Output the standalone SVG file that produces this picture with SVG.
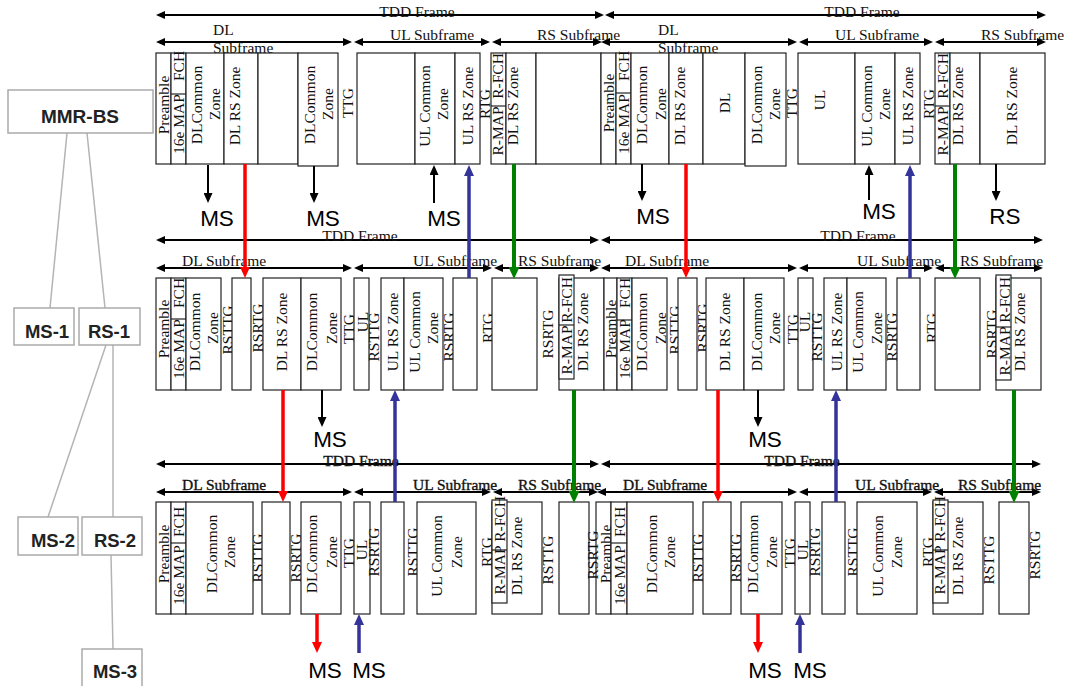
<svg xmlns="http://www.w3.org/2000/svg" width="1065" height="686" viewBox="0 0 1065 686">
<defs>
<style>
.bx{fill:#fff;stroke:#222;stroke-width:1.2}
.dv{stroke:#222;stroke-width:1.2}
.r{font-family:"Liberation Serif","Times New Roman",serif;font-size:15.5px;text-anchor:middle;fill:#111}
.l{font-family:"Liberation Serif","Times New Roman",serif;font-size:15.5px;fill:#111}
.c{text-anchor:middle}
.bd{stroke:#111;stroke-width:0.35}
.ms{font-family:"Liberation Sans",Arial,sans-serif;font-size:22.5px;text-anchor:middle;fill:#000}
.tn{fill:#fff;stroke:#aaa;stroke-width:1.5}
.tt{font-family:"Liberation Sans",Arial,sans-serif;font-weight:bold;font-size:19px;fill:#222;text-anchor:middle}
.tl{stroke:#b4b4b4;stroke-width:1.5;fill:none}
.h{stroke:#000;stroke-width:2.2;fill:none;marker-start:url(#ah);marker-end:url(#ah)}
.k{stroke:#000;stroke-width:2;fill:none;marker-end:url(#kb)}
.rd{stroke:#ff0000;stroke-width:3.5;fill:none;marker-end:url(#rdh)}
.bu{stroke:#333399;stroke-width:3.5;fill:none;marker-end:url(#buh)}
.gr{stroke:#008000;stroke-width:4;fill:none;marker-end:url(#grh)}
</style>
<marker id="ah" viewBox="0 0 9 8" refX="3" refY="4" markerWidth="9" markerHeight="8" markerUnits="userSpaceOnUse" orient="auto-start-reverse"><path d="M0,0L9,4L0,8z" fill="#000"/></marker>
<marker id="kb" viewBox="0 0 10 9" refX="4" refY="4.5" markerWidth="10" markerHeight="9" markerUnits="userSpaceOnUse" orient="auto"><path d="M0,0L10,4.5L0,9z" fill="#000"/></marker>
<marker id="rdh" viewBox="0 0 11 10" refX="5" refY="5" markerWidth="11" markerHeight="10" markerUnits="userSpaceOnUse" orient="auto"><path d="M0,0L11,5L0,10z" fill="#ff0000"/></marker>
<marker id="buh" viewBox="0 0 11 10" refX="5" refY="5" markerWidth="11" markerHeight="10" markerUnits="userSpaceOnUse" orient="auto"><path d="M0,0L11,5L0,10z" fill="#333399"/></marker>
<marker id="grh" viewBox="0 0 12 11" refX="5" refY="5.5" markerWidth="12" markerHeight="11" markerUnits="userSpaceOnUse" orient="auto"><path d="M0,0L12,5.5L0,11z" fill="#008000"/></marker>
</defs>
<rect width="1065" height="686" fill="#fff"/>

<!-- Tree -->
<g id="tree-links">
<line class="tl" x1="67" y1="133" x2="50" y2="308"/>
<line class="tl" x1="87" y1="133" x2="105" y2="308"/>
<line class="tl" x1="106" y1="345" x2="48" y2="517"/>
<line class="tl" x1="113" y1="345" x2="113" y2="517"/>
<line class="tl" x1="111" y1="555" x2="113" y2="649"/>
</g>
<g id="mmr-bs"><rect class="tn" x="8" y="90" width="145" height="43"/><text class="tt" x="80" y="123">MMR-BS</text></g>
<g id="ms-1"><rect class="tn" x="14" y="308" width="60" height="37"/><text class="tt" x="47" y="338" style="font-size:18.5px">MS-1</text></g>
<g id="rs-1"><rect class="tn" x="79" y="308" width="61" height="37"/><text class="tt" x="109" y="338" style="font-size:18.5px">RS-1</text></g>
<g id="ms-2"><rect class="tn" x="18" y="517" width="60" height="38"/><text class="tt" x="53" y="547" style="font-size:18.5px">MS-2</text></g>
<g id="rs-2"><rect class="tn" x="82" y="517" width="60" height="38"/><text class="tt" x="115" y="547" style="font-size:18.5px">RS-2</text></g>
<g id="ms-3"><rect class="tn" x="82" y="649" width="60" height="42"/><text class="tt" x="115" y="678" style="font-size:18.5px">MS-3</text></g>

<!-- Row 1 timing arrows and labels -->
<g id="row1-timing">
<line class="h" x1="162" y1="15" x2="598" y2="15"/>
<line class="h" x1="611" y1="15" x2="1040" y2="15"/>
<line class="h" x1="162" y1="42" x2="346" y2="42"/>
<line class="h" x1="360" y1="42" x2="484" y2="42"/>
<line class="h" x1="498" y1="42" x2="596" y2="42"/>
<line class="h" x1="607" y1="42" x2="791" y2="42"/>
<line class="h" x1="805" y1="42" x2="927" y2="42"/>
<line class="h" x1="941" y1="42" x2="1040" y2="42"/>
<text class="l c" x="417" y="17">TDD Frame</text>
<text class="l c" x="862" y="17">TDD Frame</text>
<text class="l" x="213" y="35">DL</text>
<text class="l" x="213" y="53">Subframe</text>
<text class="l" x="658" y="35">DL</text>
<text class="l" x="658" y="53">Subframe</text>
<text class="l" x="390" y="40">UL Subframe</text>
<text class="l" x="835" y="40">UL Subframe</text>
<text class="l" x="537" y="40">RS Subframe</text>
<text class="l" x="981" y="40">RS Subframe</text>
</g>

<!-- Row 1 left frame -->
<g id="r1a-pre"><rect class="bx" x="156" y="53" width="15" height="111"/><text class="r" transform="translate(168.5,105) rotate(-90)">Preamble</text></g>
<g id="r1a-map"><rect class="bx" x="171" y="53" width="15" height="111"/><line class="dv" x1="171" y1="94" x2="186" y2="94"/><text class="r" transform="translate(184,66) rotate(-90)">FCH</text><text class="r" transform="translate(184,124) rotate(-90)">16e MAP</text></g>
<g id="r1a-dlc"><rect class="bx" x="186" y="53" width="38" height="111"/><text class="r" transform="translate(202,105) rotate(-90)">DLCommon</text><text class="r" transform="translate(220,104) rotate(-90)">Zone</text></g>
<g id="r1a-dlrs"><rect class="bx" x="224" y="53" width="34" height="111"/><text class="r" transform="translate(240,106) rotate(-90)">DL RS Zone</text></g>
<g id="r1a-e1"><rect class="bx" x="258" y="53" width="40" height="111"/></g>
<g id="r1a-dlc2"><rect class="bx" x="298" y="53" width="40" height="113"/><text class="r" transform="translate(315,105) rotate(-90)">DLCommon</text><text class="r" transform="translate(333,104) rotate(-90)">Zone</text></g>
<g id="r1a-ttg"><text class="r" transform="translate(353,103) rotate(-90)">TTG</text></g>
<g id="r1a-ul"><rect class="bx" x="357" y="53" width="58" height="111"/></g>
<g id="r1a-ulc"><rect class="bx" x="415" y="53" width="40" height="111"/><text class="r" transform="translate(430,106) rotate(-90)">UL Common</text><text class="r" transform="translate(448,104) rotate(-90)">Zone</text></g>
<g id="r1a-ulrs"><rect class="bx" x="455" y="53" width="25" height="111"/><text class="r" transform="translate(473,106) rotate(-90)">UL RS Zone</text></g>
<g id="r1a-rtg"><text class="r" transform="translate(490,104) rotate(-90)">RTG</text></g>
<g id="r1a-rmap"><rect class="bx" x="491" y="53" width="15" height="111"/><line class="dv" x1="491" y1="106" x2="506" y2="106"/><text class="r" transform="translate(503,76) rotate(-90)">R-FCH</text><text class="r" transform="translate(503,131) rotate(-90)">R-MAP</text></g>
<g id="r1a-dlrs2"><rect class="bx" x="506" y="53" width="30" height="111"/><text class="r" transform="translate(518,106) rotate(-90)">DL RS Zone</text></g>
<g id="r1a-e2"><rect class="bx" x="536" y="53" width="65" height="111"/></g>

<!-- Row 1 right frame -->
<g id="r1b-pre"><rect class="bx" x="601" y="53" width="15" height="111"/><text class="r" transform="translate(613.5,103) rotate(-90)">Preamble</text></g>
<g id="r1b-map"><rect class="bx" x="616" y="53" width="15" height="111"/><line class="dv" x1="616" y1="93" x2="631" y2="93"/><text class="r" transform="translate(629,66) rotate(-90)">FCH</text><text class="r" transform="translate(629,124) rotate(-90)">16e MAP</text></g>
<g id="r1b-dlc"><rect class="bx" x="631" y="53" width="38" height="111"/><text class="r" transform="translate(647,105) rotate(-90)">DLCommon</text><text class="r" transform="translate(666,104) rotate(-90)">Zone</text></g>
<g id="r1b-dlrs"><rect class="bx" x="669" y="53" width="34" height="111"/><text class="r" transform="translate(685,106) rotate(-90)">DL RS Zone</text></g>
<g id="r1b-dl"><rect class="bx" x="703" y="53" width="42" height="111"/><text class="r" transform="translate(730,103) rotate(-90)">DL</text></g>
<g id="r1b-dlc2"><rect class="bx" x="745" y="53" width="41" height="113"/><text class="r" transform="translate(762,105) rotate(-90)">DLCommon</text><text class="r" transform="translate(780,104) rotate(-90)">Zone</text></g>
<g id="r1b-ttg"><text class="r" transform="translate(797,103) rotate(-90)">TTG</text></g>
<g id="r1b-ul"><rect class="bx" x="798" y="53" width="57" height="111"/><text class="r" transform="translate(825,100) rotate(-90)">UL</text></g>
<g id="r1b-ulc"><rect class="bx" x="855" y="53" width="40" height="111"/><text class="r" transform="translate(872,106) rotate(-90)">UL Common</text><text class="r" transform="translate(890,104) rotate(-90)">Zone</text></g>
<g id="r1b-ulrs"><rect class="bx" x="895" y="53" width="25" height="111"/><text class="r" transform="translate(913,106) rotate(-90)">UL RS Zone</text></g>
<g id="r1b-rtg"><text class="r" transform="translate(934,104) rotate(-90)">RTG</text></g>
<g id="r1b-rmap"><rect class="bx" x="935" y="53" width="15" height="111"/><line class="dv" x1="935" y1="106" x2="950" y2="106"/><text class="r" transform="translate(948,76) rotate(-90)">R-FCH</text><text class="r" transform="translate(948,131) rotate(-90)">R-MAP</text></g>
<g id="r1b-dlrs2"><rect class="bx" x="950" y="53" width="30" height="111"/><text class="r" transform="translate(963,106) rotate(-90)">DL RS Zone</text></g>
<g id="r1b-dlrs3"><rect class="bx" x="980" y="53" width="65" height="111"/><text class="r" transform="translate(1017,106) rotate(-90)">DL RS Zone</text></g>

<!-- Row 2 timing -->
<g id="row2-timing">
<line class="h" x1="162" y1="240" x2="593" y2="240"/>
<line class="h" x1="607" y1="240" x2="1037" y2="240"/>
<line class="h" x1="162" y1="268" x2="346" y2="268"/>
<line class="h" x1="360" y1="268" x2="486" y2="268"/>
<line class="h" x1="500" y1="268" x2="593" y2="268"/>
<line class="h" x1="607" y1="268" x2="791" y2="268"/>
<line class="h" x1="805" y1="268" x2="927" y2="268"/>
<line class="h" x1="941" y1="268" x2="1037" y2="268"/>
<text class="l c" x="360" y="241">TDD Frame</text>
<text class="l c" x="858" y="241">TDD Frame</text>
<text class="l" x="182" y="266">DL Subframe</text>
<text class="l" x="625" y="266">DL Subframe</text>
<text class="l" x="413" y="266">UL Subframe</text>
<text class="l" x="857" y="266">UL Subframe</text>
<text class="l" x="518" y="266">RS Subframe</text>
<text class="l" x="960" y="266">RS Subframe</text>
</g>

<!-- Row 2 left frame -->
<g id="r2a-pre"><rect class="bx" x="156" y="278" width="15" height="112"/><text class="r" transform="translate(168.5,329) rotate(-90)">Preamble</text></g>
<g id="r2a-map"><rect class="bx" x="171" y="278" width="15" height="112"/><line class="dv" x1="171" y1="319" x2="186" y2="319"/><text class="r" transform="translate(184,293) rotate(-90)">FCH</text><text class="r" transform="translate(184,349) rotate(-90)">16e MAP</text></g>
<g id="r2a-dlc"><rect class="bx" x="186" y="278" width="35" height="112"/><text class="r" transform="translate(200,332) rotate(-90)">DLCommon</text><text class="r" transform="translate(218,328) rotate(-90)">Zone</text></g>
<g id="r2a-rsttg"><text class="r" transform="translate(233,330) rotate(-90)">RSTTG</text></g>
<g id="r2a-b1"><rect class="bx" x="232" y="278" width="19" height="112"/></g>
<g id="r2a-rsrtg"><text class="r" transform="translate(263,328) rotate(-90)">RSRTG</text></g>
<g id="r2a-dlrs"><rect class="bx" x="263" y="278" width="38" height="112"/><text class="r" transform="translate(287,332) rotate(-90)">DL RS Zone</text></g>
<g id="r2a-dlc2"><rect class="bx" x="301" y="278" width="40" height="112"/><text class="r" transform="translate(317,332) rotate(-90)">DLCommon</text><text class="r" transform="translate(337,328) rotate(-90)">Zone</text></g>
<g id="r2a-ttg"><text class="r" transform="translate(354,329) rotate(-90)">TTG</text></g>
<g id="r2a-ul"><rect class="bx" x="354" y="278" width="15" height="112"/><text class="r" transform="translate(368,322) rotate(-90)">UL</text></g>
<g id="r2a-rsttg2"><text class="r" transform="translate(379,337) rotate(-90)">RSTTG</text></g>
<g id="r2a-ulrs"><rect class="bx" x="381" y="278" width="23" height="112"/><text class="r" transform="translate(398,332) rotate(-90)">UL RS Zone</text></g>
<g id="r2a-ulc"><rect class="bx" x="404" y="278" width="39" height="112"/><text class="r" transform="translate(420,332) rotate(-90)">UL Common</text><text class="r" transform="translate(438,328) rotate(-90)">Zone</text></g>
<g id="r2a-rsrtg2"><text class="r" transform="translate(454,337) rotate(-90)">RSRTG</text></g>
<g id="r2a-b2"><rect class="bx" x="453" y="278" width="24" height="112"/></g>
<g id="r2a-rtg"><text class="r" transform="translate(493,328) rotate(-90)">RTG</text></g>
<g id="r2a-b3"><rect class="bx" x="492" y="278" width="45" height="112"/></g>
<g id="r2a-rsrtg3"><text class="r" transform="translate(553,334) rotate(-90)">RSRTG</text></g>
<g id="r2a-dlrs2"><rect class="bx" x="559" y="278" width="45" height="112"/><text class="r" transform="translate(588,332) rotate(-90)">DL RS Zone</text></g>
<g id="r2a-rmap"><rect class="bx" x="559" y="275" width="15" height="104"/><line class="dv" x1="559" y1="325" x2="574" y2="325"/><text class="r" transform="translate(572,300) rotate(-90)">R-FCH</text><text class="r" transform="translate(572,350) rotate(-90)">R-MAP</text></g>

<!-- Row 2 right frame -->
<g id="r2b-pre"><rect class="bx" x="604" y="278" width="13" height="112"/><text class="r" transform="translate(616,329) rotate(-90)">Preamble</text></g>
<g id="r2b-map"><rect class="bx" x="617" y="278" width="15" height="112"/><line class="dv" x1="617" y1="320" x2="632" y2="320"/><text class="r" transform="translate(630,293) rotate(-90)">FCH</text><text class="r" transform="translate(630,349) rotate(-90)">16e MAP</text></g>
<g id="r2b-dlc"><rect class="bx" x="632" y="278" width="35" height="112"/><text class="r" transform="translate(647,332) rotate(-90)">DLCommon</text><text class="r" transform="translate(666,328) rotate(-90)">Zone</text></g>
<g id="r2b-rsttg"><text class="r" transform="translate(680,330) rotate(-90)">RSTTG</text></g>
<g id="r2b-b1"><rect class="bx" x="678" y="278" width="19" height="112"/></g>
<g id="r2b-rsrtg"><text class="r" transform="translate(708,328) rotate(-90)">RSRTG</text></g>
<g id="r2b-dlrs"><rect class="bx" x="706" y="278" width="38" height="112"/><text class="r" transform="translate(730,332) rotate(-90)">DL RS Zone</text></g>
<g id="r2b-dlc2"><rect class="bx" x="744" y="278" width="40" height="112"/><text class="r" transform="translate(762,332) rotate(-90)">DLCommon</text><text class="r" transform="translate(780,328) rotate(-90)">Zone</text></g>
<g id="r2b-ttg"><text class="r" transform="translate(798,329) rotate(-90)">TTG</text></g>
<g id="r2b-ul"><rect class="bx" x="798" y="278" width="15" height="112"/><text class="r" transform="translate(810,322) rotate(-90)">UL</text></g>
<g id="r2b-rsttg2"><text class="r" transform="translate(822,337) rotate(-90)">RSTTG</text></g>
<g id="r2b-ulrs"><rect class="bx" x="824" y="278" width="23" height="112"/><text class="r" transform="translate(842,332) rotate(-90)">UL RS Zone</text></g>
<g id="r2b-ulc"><rect class="bx" x="847" y="278" width="39" height="112"/><text class="r" transform="translate(863,332) rotate(-90)">UL Common</text><text class="r" transform="translate(882,328) rotate(-90)">Zone</text></g>
<g id="r2b-rsrtg2"><text class="r" transform="translate(897,337) rotate(-90)">RSRTG</text></g>
<g id="r2b-b2"><rect class="bx" x="897" y="278" width="23" height="112"/></g>
<g id="r2b-rtg"><text class="r" transform="translate(937,328) rotate(-90)">RTG</text></g>
<g id="r2b-b3"><rect class="bx" x="935" y="278" width="45" height="112"/></g>
<g id="r2b-rsrtg3"><text class="r" transform="translate(997,334) rotate(-90)">RSRTG</text></g>
<g id="r2b-dlrs2"><rect class="bx" x="996" y="278" width="45" height="112"/><text class="r" transform="translate(1025,332) rotate(-90)">DL RS Zone</text></g>
<g id="r2b-rmap"><rect class="bx" x="996" y="275" width="15" height="105"/><line class="dv" x1="996" y1="327" x2="1011" y2="327"/><text class="r" transform="translate(1010,300) rotate(-90)">R-FCH</text><text class="r" transform="translate(1010,351) rotate(-90)">R-MAP</text></g>

<!-- Row 3 timing -->
<g id="row3-timing">
<line class="h" x1="162" y1="464" x2="593" y2="464"/>
<line class="h" x1="607" y1="464" x2="1035" y2="464"/>
<line class="h" x1="162" y1="492" x2="346" y2="492"/>
<line class="h" x1="360" y1="492" x2="485" y2="492"/>
<line class="h" x1="499" y1="492" x2="592" y2="492"/>
<line class="h" x1="603" y1="492" x2="791" y2="492"/>
<line class="h" x1="805" y1="492" x2="926" y2="492"/>
<line class="h" x1="940" y1="492" x2="1035" y2="492"/>
<text class="l c bd" x="361" y="466">TDD Frame</text>
<text class="l c bd" x="802" y="466">TDD Frame</text>
<text class="l bd" x="182" y="490">DL Subframe</text>
<text class="l bd" x="623" y="490">DL Subframe</text>
<text class="l bd" x="413" y="490">UL Subframe</text>
<text class="l bd" x="855" y="490">UL Subframe</text>
<text class="l bd" x="518" y="490">RS Subframe</text>
<text class="l bd" x="958" y="490">RS Subframe</text>
</g>

<!-- Row 3 left frame -->
<g id="r3a-pre"><rect class="bx" x="156" y="502" width="15" height="112"/><text class="r" transform="translate(168.5,554) rotate(-90)">Preamble</text></g>
<g id="r3a-map"><rect class="bx" x="171" y="502" width="15" height="112"/><line class="dv" x1="171" y1="543" x2="186" y2="543"/><text class="r" transform="translate(184,522) rotate(-90)">FCH</text><text class="r" transform="translate(184,575) rotate(-90)">16e MAP</text></g>
<g id="r3a-dlc"><rect class="bx" x="186" y="502" width="67" height="112"/><text class="r" transform="translate(217,554) rotate(-90)">DLCommon</text><text class="r" transform="translate(235,552) rotate(-90)">Zone</text></g>
<g id="r3a-rsttg"><text class="r" transform="translate(263,558) rotate(-90)">RSTTG</text></g>
<g id="r3a-b1"><rect class="bx" x="262" y="502" width="28" height="112"/></g>
<g id="r3a-rsrtg"><text class="r" transform="translate(301,558) rotate(-90)">RSRTG</text></g>
<g id="r3a-dlc2"><rect class="bx" x="301" y="502" width="40" height="112"/><text class="r" transform="translate(317,554) rotate(-90)">DLCommon</text><text class="r" transform="translate(337,552) rotate(-90)">Zone</text></g>
<g id="r3a-ttg"><text class="r" transform="translate(354,553) rotate(-90)">TTG</text></g>
<g id="r3a-ul"><rect class="bx" x="354" y="502" width="16" height="112"/><text class="r" transform="translate(367,550) rotate(-90)">UL</text></g>
<g id="r3a-rsrtg2"><text class="r" transform="translate(379,552) rotate(-90)">RSRTG</text></g>
<g id="r3a-b2"><rect class="bx" x="381" y="502" width="23" height="112"/></g>
<g id="r3a-rsttg2"><text class="r" transform="translate(418,552) rotate(-90)">RSTTG</text></g>
<g id="r3a-ulc"><rect class="bx" x="417" y="502" width="59" height="112"/><text class="r" transform="translate(442,556) rotate(-90)">UL Common</text><text class="r" transform="translate(462,552) rotate(-90)">Zone</text></g>
<g id="r3a-rtg"><text class="r" transform="translate(492,552) rotate(-90)">RTG</text></g>
<g id="r3a-dlrs"><rect class="bx" x="492" y="502" width="50" height="112"/><text class="r" transform="translate(522,556) rotate(-90)">DL RS Zone</text></g>
<g id="r3a-rmap"><rect class="bx" x="492" y="500" width="15" height="103"/><line class="dv" x1="492" y1="550" x2="507" y2="550"/><text class="r" transform="translate(505,519) rotate(-90)">R-FCH</text><text class="r" transform="translate(505,570) rotate(-90)">R-MAP</text></g>
<g id="r3a-rsttg3"><text class="r" transform="translate(553,560) rotate(-90)">RSTTG</text></g>
<g id="r3a-b3"><rect class="bx" x="559" y="502" width="30" height="112"/></g>

<!-- Row 3 right frame -->
<g id="r3b-pre"><rect class="bx" x="596" y="502" width="15" height="112"/><text class="r" transform="translate(611,554) rotate(-90)">Preamble</text></g>
<g id="r3a-rsrtg3"><text class="r" transform="translate(598,555) rotate(-90)">RSRTG</text></g>
<g id="r3b-map"><rect class="bx" x="611" y="502" width="16" height="112"/><line class="dv" x1="611" y1="543" x2="627" y2="543"/><text class="r" transform="translate(625,522) rotate(-90)">FCH</text><text class="r" transform="translate(625,575) rotate(-90)">16e MAP</text></g>
<g id="r3b-dlc"><rect class="bx" x="627" y="502" width="66" height="112"/><text class="r" transform="translate(657,554) rotate(-90)">DLCommon</text><text class="r" transform="translate(675,552) rotate(-90)">Zone</text></g>
<g id="r3b-rsttg"><text class="r" transform="translate(703,558) rotate(-90)">RSTTG</text></g>
<g id="r3b-b1"><rect class="bx" x="703" y="502" width="28" height="112"/></g>
<g id="r3b-rsrtg"><text class="r" transform="translate(741,558) rotate(-90)">RSRTG</text></g>
<g id="r3b-dlc2"><rect class="bx" x="741" y="502" width="41" height="112"/><text class="r" transform="translate(758,554) rotate(-90)">DLCommon</text><text class="r" transform="translate(777,552) rotate(-90)">Zone</text></g>
<g id="r3b-ttg"><text class="r" transform="translate(795,553) rotate(-90)">TTG</text></g>
<g id="r3b-ul"><rect class="bx" x="795" y="502" width="15" height="112"/><text class="r" transform="translate(808,550) rotate(-90)">UL</text></g>
<g id="r3b-rsrtg2"><text class="r" transform="translate(820,552) rotate(-90)">RSRTG</text></g>
<g id="r3b-b2"><rect class="bx" x="822" y="502" width="23" height="112"/></g>
<g id="r3b-rsttg2"><text class="r" transform="translate(858,552) rotate(-90)">RSTTG</text></g>
<g id="r3b-ulc"><rect class="bx" x="857" y="502" width="60" height="112"/><text class="r" transform="translate(883,556) rotate(-90)">UL Common</text><text class="r" transform="translate(902,552) rotate(-90)">Zone</text></g>
<g id="r3b-rtg"><text class="r" transform="translate(933,552) rotate(-90)">RTG</text></g>
<g id="r3b-dlrs"><rect class="bx" x="933" y="502" width="50" height="112"/><text class="r" transform="translate(963,556) rotate(-90)">DL RS Zone</text></g>
<g id="r3b-rmap"><rect class="bx" x="933" y="500" width="15" height="103"/><line class="dv" x1="933" y1="550" x2="948" y2="550"/><text class="r" transform="translate(945,519) rotate(-90)">R-FCH</text><text class="r" transform="translate(945,570) rotate(-90)">R-MAP</text></g>
<g id="r3b-rsttg3"><text class="r" transform="translate(994,560) rotate(-90)">RSTTG</text></g>
<g id="r3b-b3"><rect class="bx" x="999" y="502" width="30" height="112"/></g>
<g id="r3b-rsrtg3"><text class="r" transform="translate(1040,555) rotate(-90)">RSRTG</text></g>

<!-- Connectors -->
<g id="connectors">
<line class="k" x1="208" y1="165" x2="208" y2="197"/>
<line class="k" x1="314" y1="166" x2="314" y2="197"/>
<line class="k" x1="434" y1="203" x2="434" y2="171"/>
<line class="k" x1="642" y1="164" x2="642" y2="195"/>
<line class="k" x1="869" y1="200" x2="869" y2="171"/>
<line class="k" x1="996" y1="164" x2="996" y2="195"/>
<line class="rd" x1="245" y1="164" x2="245" y2="272"/>
<line class="rd" x1="686" y1="164" x2="686" y2="272"/>
<line class="bu" x1="469" y1="278" x2="469" y2="171"/>
<line class="bu" x1="910" y1="278" x2="910" y2="171"/>
<line class="gr" x1="514" y1="164" x2="514" y2="272"/>
<line class="gr" x1="955" y1="164" x2="955" y2="272"/>

<line class="rd" x1="283" y1="390" x2="283" y2="496"/>
<line class="rd" x1="718" y1="390" x2="718" y2="496"/>
<line class="k" x1="322" y1="390" x2="322" y2="421"/>
<line class="k" x1="758" y1="390" x2="758" y2="421"/>
<line class="bu" x1="395" y1="502" x2="395" y2="396"/>
<line class="bu" x1="836" y1="502" x2="836" y2="396"/>
<line class="gr" x1="574" y1="390" x2="574" y2="496"/>
<line class="gr" x1="1014" y1="390" x2="1014" y2="496"/>

<line class="rd" x1="317" y1="614" x2="317" y2="647"/>
<line class="rd" x1="758" y1="614" x2="758" y2="647"/>
<line class="bu" x1="359" y1="653" x2="359" y2="620"/>
<line class="bu" x1="800" y1="653" x2="800" y2="620"/>
</g>

<!-- Endpoint labels -->
<g id="ends">
<text class="ms" x="217" y="226">MS</text>
<text class="ms" x="323" y="226">MS</text>
<text class="ms" x="444" y="226">MS</text>
<text class="ms" x="653" y="224">MS</text>
<text class="ms" x="879" y="219">MS</text>
<text class="ms" x="1005" y="224">RS</text>
<text class="ms" x="330" y="447">MS</text>
<text class="ms" x="765" y="447">MS</text>
<text class="ms" x="325" y="678">MS</text>
<text class="ms" x="369" y="678">MS</text>
<text class="ms" x="765" y="678">MS</text>
<text class="ms" x="810" y="678">MS</text>
</g>
</svg>
